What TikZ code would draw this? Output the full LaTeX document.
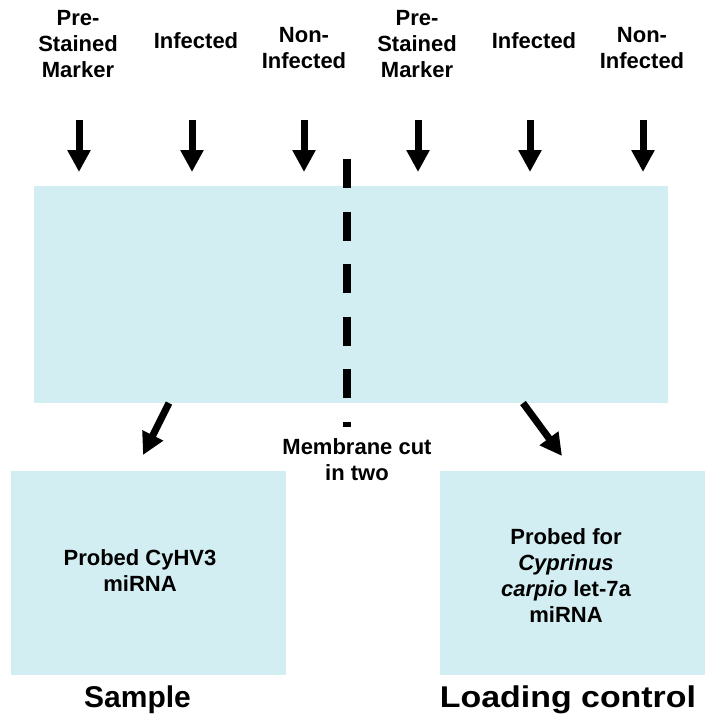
\documentclass[tikz,border=0pt]{standalone}
\usepackage{fontspec}
\setmainfont{Liberation Sans}
\usepackage{graphicx}
\usetikzlibrary{arrows.meta}
\definecolor{membraneblue}{RGB}{211,238,242}
\begin{document}
\begin{tikzpicture}[x=1pt,y=-1pt,
  lbl/.style={inner sep=0pt, align=center, font=\fontsize{22}{26}\selectfont\bfseries},
  panel/.style={fill=membraneblue, draw=none, inner sep=0pt},
  bigarrow/.style={line width=7pt, -{Triangle[length=22pt,width=22pt]}},
  cutline/.style={line width=8pt, dash pattern=on 29pt off 23.6pt},
  caption/.style={inner sep=0pt, font=\fontsize{30}{34}\selectfont\bfseries}]
\useasboundingbox (0,0) rectangle (705,717);

% membrane and the two halves
\node[panel, minimum width=634pt, minimum height=217pt] (membrane) at (351,294.5) {};
\node[panel, minimum width=275pt, minimum height=204pt] (sample) at (148.5,573) {};
\node[panel, minimum width=265pt, minimum height=204pt] (control) at (572.5,573) {};

% lane labels
\node[lbl] (marker1) at (78,44.1) {Pre-\\Stained\\Marker};
\node[lbl] (inf1) at (196,41) {Infected};
\node[lbl] (non1) at (304,48.1) {Non-\\Infected};
\node[lbl] (marker2) at (417,44.1) {Pre-\\Stained\\Marker};
\node[lbl] (inf2) at (534,41) {Infected};
\node[lbl] (non2) at (642,48.1) {Non-\\Infected};

% loading arrows
\foreach \n/\x in {1/79, 2/192, 3/304, 4/418, 5/530, 6/643} {
  \coordinate (lane\n top) at (\x,120);
  \coordinate (lane\n tip) at (\x,172);
  \draw[bigarrow] (lane\n top) -- (lane\n tip);
}

% cut line
\coordinate (cuttop) at (347,159);
\coordinate (cutend) at (347,427);
\draw[cutline] (cuttop) -- (cutend);

% split arrows
\coordinate (splitL) at (169,403);
\coordinate (tipL) at (143,455);
\coordinate (splitR) at (523,403);
\coordinate (tipR) at (562,456);
\draw[bigarrow] (splitL) -- (tipL);
\draw[bigarrow] (splitR) -- (tipR);

% texts
\node[lbl] (cutnote) at (357,459.5) {Membrane cut\\in two};
\node[lbl] (probe1) at (140,570.5) {Probed CyHV3\\miRNA};
\node[lbl] (probe2) at (566,576) {Probed for\\\textit{Cyprinus}\\\textit{carpio} let-7a\\miRNA};
\node[caption] (samplecap) at (137.5,700) {Sample};
\node[caption] (controlcap) at (568,700) {\scalebox{1.13}[1]{Loading control}};
\end{tikzpicture}
\end{document}
